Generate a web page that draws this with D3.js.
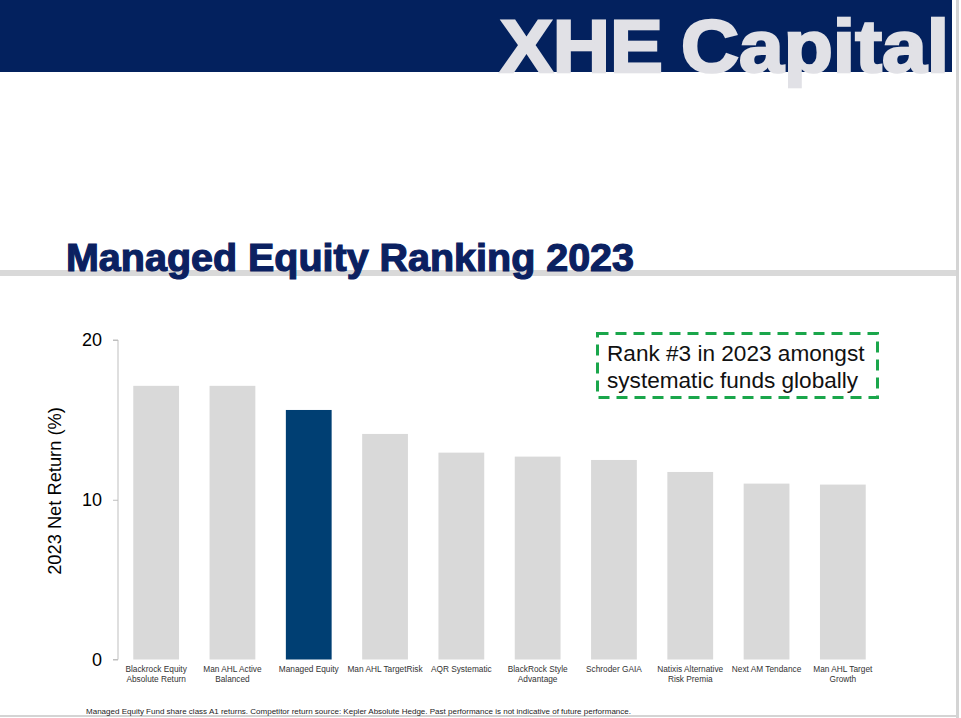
<!DOCTYPE html>
<html>
<head>
<meta charset="utf-8">
<script src="https://cdn.jsdelivr.net/npm/d3@7/dist/d3.min.js"></script>
<style>
  html, body { margin: 0; padding: 0; background: #fff; }
  svg { display: block; }
</style>
</head>
<body>
<svg id="chart" width="961" height="718"></svg>
<script>
// ---- data ----
const categories = [
  ["Blackrock Equity", "Absolute Return"],
  ["Man AHL Active", "Balanced"],
  ["Managed Equity"],
  ["Man AHL TargetRisk"],
  ["AQR Systematic"],
  ["BlackRock Style", "Advantage"],
  ["Schroder GAIA"],
  ["Natixis Alternative", "Risk Premia"],
  ["Next AM Tendance"],
  ["Man AHL Target", "Growth"]
];
const returns2023 = [17.13, 17.13, 15.62, 14.12, 12.95, 12.70, 12.49, 11.74, 11.01, 10.95];
const highlightIndex = 2;
const yTicks = [0, 10, 20];
const titleText = "Managed Equity Ranking 2023";
const yAxisLabel = "2023 Net Return (%)";
const calloutLines = ["Rank #3 in 2023 amongst", "systematic funds globally"];
const footnote = "Managed Equity Fund share class A1 returns. Competitor return source: Kepler Absolute Hedge. Past performance is not indicative of future performance.";

const svg = d3.select("#chart");
const W = 961, H = 718;

// ---- page frame ----
svg.append("rect").attr("x", 0).attr("y", 0).attr("width", W).attr("height", H).attr("fill", "#fff");
svg.append("rect").attr("x", 956).attr("y", 0).attr("width", 3).attr("height", H).attr("fill", "#d4d4d4");
svg.append("rect").attr("x", 0).attr("y", 715).attr("width", 959).attr("height", 2).attr("fill", "#d4d4d4");

// header band
svg.append("rect").attr("x", 0).attr("y", 0).attr("width", 952).attr("height", 72).attr("fill", "#03215e");
const logoFont = "'Liberation Sans', Arial, sans-serif";
svg.append("text").attr("x", 500).attr("y", 72)
  .attr("font-family", logoFont).attr("font-weight", "bold").attr("font-size", 74)
  .attr("fill", "#e1e1e6").attr("stroke", "#e1e1e6").attr("stroke-width", 2.5)
  .attr("textLength", 163).attr("lengthAdjust", "spacingAndGlyphs")
  .text("XHE");
svg.append("text").attr("x", 681).attr("y", 72)
  .attr("font-family", logoFont).attr("font-weight", "bold").attr("font-size", 74)
  .attr("fill", "#e1e1e6").attr("stroke", "#e1e1e6").attr("stroke-width", 2.5)
  .attr("textLength", 268).attr("lengthAdjust", "spacingAndGlyphs")
  .text("Capital");

// title rule + title
svg.append("rect").attr("x", 0).attr("y", 270).attr("width", 956).attr("height", 6).attr("fill", "#d9d9d9");
svg.append("text").attr("x", 66).attr("y", 271)
  .attr("font-family", logoFont).attr("font-weight", "bold").attr("font-size", 38)
  .attr("fill", "#0b2161").attr("stroke", "#0b2161").attr("stroke-width", 1.2)
  .attr("textLength", 568).attr("lengthAdjust", "spacingAndGlyphs")
  .text(titleText);

// ---- chart ----
const axisX = 118;
const x = d3.scaleBand().domain(d3.range(categories.length))
  .range([axisX, axisX + 763]).paddingInner(0.4).paddingOuter(0.2);
const y = d3.scaleLinear().domain([0, 20]).range([659.5, 340]);

svg.append("g").selectAll("rect").data(returns2023).join("rect")
  .attr("x", (d, i) => x(i))
  .attr("y", d => y(d))
  .attr("width", x.bandwidth())
  .attr("height", d => y(0) - y(d))
  .attr("fill", (d, i) => i === highlightIndex ? "#003f73" : "#d9d9d9");

const yAxis = svg.append("g").attr("transform", `translate(${axisX},0)`)
  .call(d3.axisLeft(y).tickValues(yTicks).tickSize(5).tickPadding(11).tickFormat(d3.format("d")));
yAxis.select(".domain").attr("stroke", "#bfbfbf").attr("d", `M-5,${y(20)}H0V${y(0)}H-5`);
yAxis.selectAll(".tick line").attr("stroke", "#bfbfbf");
yAxis.selectAll(".tick text").attr("font-family", "Arial, 'Liberation Sans', sans-serif")
  .attr("font-size", 18).attr("fill", "#000");

svg.append("text")
  .attr("transform", `translate(61,491) rotate(-90)`)
  .attr("text-anchor", "middle")
  .attr("font-family", "Arial, 'Liberation Sans', sans-serif").attr("font-size", 18.3).attr("fill", "#000")
  .text(yAxisLabel);

// category labels
const catG = svg.append("g");
categories.forEach((lines, i) => {
  const t = catG.append("text")
    .attr("x", x(i) + x.bandwidth() / 2).attr("y", 672)
    .attr("text-anchor", "middle")
    .attr("font-family", "Arial, 'Liberation Sans', sans-serif").attr("font-size", 8.3).attr("fill", "#333");
  lines.forEach((ln, j) => {
    t.append("tspan").attr("x", x(i) + x.bandwidth() / 2).attr("dy", j === 0 ? 0 : 10).text(ln);
  });
});

// callout box
svg.append("rect").attr("x", 597.5).attr("y", 333.5).attr("width", 280).attr("height", 64)
  .attr("fill", "none").attr("stroke", "#1aa64b").attr("stroke-width", 3)
  .attr("stroke-dasharray", "11,7");
calloutLines.forEach((ln, j) => {
  svg.append("text").attr("x", 607).attr("y", 361 + j * 27)
    .attr("font-family", "Arial, 'Liberation Sans', sans-serif").attr("font-size", 22.6).attr("fill", "#111")
    .text(ln);
});

// footnote
svg.append("text").attr("x", 86).attr("y", 714)
  .attr("font-family", "Arial, 'Liberation Sans', sans-serif").attr("font-size", 7.6).attr("fill", "#222")
  .attr("textLength", 545).attr("lengthAdjust", "spacingAndGlyphs")
  .text(footnote);
</script>
</body>
</html>
